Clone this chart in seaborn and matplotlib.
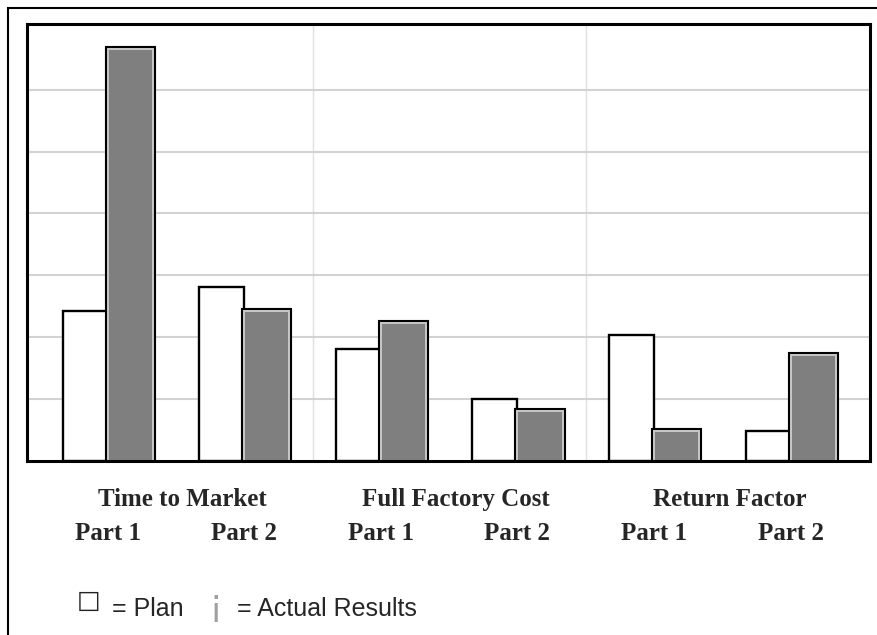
import pandas as pd
import matplotlib.pyplot as plt
import matplotlib.patheffects as pe
from matplotlib.patches import Rectangle
from matplotlib.transforms import blended_transform_factory
import seaborn as sns

# values (one grid step = 1 unit)
groups = ['Time to Market', 'Full Factory Cost', 'Return Factor']
parts = ['Part 1', 'Part 2']
plan = [2.42, 2.81, 1.81, 1.00, 2.03, 0.48]
actual = [6.66, 2.42, 2.23, 0.81, 0.48, 1.71]

rows = []
i = 0
for g in groups:
    for p in parts:
        rows.append({'key': f'{g}|{p}', 'kind': 'Plan', 'value': plan[i]})
        rows.append({'key': f'{g}|{p}', 'kind': 'Actual', 'value': actual[i]})
        i += 1
df = pd.DataFrame(rows)
order = [f'{g}|{p}' for g in groups for p in parts]

sns.set_style('white')
plt.rcParams['font.family'] = ['Liberation Sans', 'DejaVu Sans']

fig = plt.figure(figsize=(8.77, 6.35), dpi=100)
ax = fig.add_axes([27 / 877, 1 - 461 / 635, (870 - 27) / 877, (461 - 24) / 635])

sns.barplot(data=df, x='key', y='value', hue='kind', order=order,
            hue_order=['Plan', 'Actual'],
            palette={'Plan': 'white', 'Actual': '#7f7f7f'},
            edgecolor='black', linewidth=1.7, width=0.66,
            legend=False, ax=ax, zorder=3)

# grey bars: black outline with a light inner rim
for bar in ax.containers[1]:
    bar.set_edgecolor('#c9c9c9')
    bar.set_linewidth(1.4)
    bar.set_path_effects([pe.Stroke(linewidth=4.4, foreground='black'), pe.Normal()])

ax.set_ylim(0, 7.06)
ax.set_xlim(-0.59, 5.58)
ax.set_yticks(range(1, 7))
ax.set_yticklabels([])
ax.yaxis.grid(True, color='#d2d2d2', linewidth=1.5, zorder=0)
ax.set_xticks([1.5, 3.5], minor=True)
ax.xaxis.grid(True, which='minor', color='#e0e0e0', linewidth=1.0, zorder=0)
ax.xaxis.grid(False, which='major')
ax.set_axisbelow(True)
ax.tick_params(axis='both', which='both', length=0)
ax.set_xlabel('')
ax.set_ylabel('')

ax.set_xticks(range(len(order)))
ax.set_xticklabels([p for g in groups for p in parts],
                   family=['Liberation Serif', 'DejaVu Serif'],
                   fontweight='bold', fontsize=18)
ax.tick_params(axis='x', pad=44)

for s in ax.spines.values():
    s.set_visible(True)
    s.set_color('black')
    s.set_linewidth(2.2)
ax.spines['bottom'].set_zorder(4)

trans = blended_transform_factory(ax.transData, ax.transAxes)
for k, g in enumerate(groups):
    ax.text(2 * k + 0.55, -0.087, g, transform=trans, ha='center', va='center',
            family=['Liberation Serif', 'DejaVu Serif'], fontweight='bold',
            fontsize=18)

# outer frame
fig.patches.append(Rectangle((8 / 877, -0.2), 1.2, 1.2 - 8 / 635,
                             transform=fig.transFigure, fill=False,
                             edgecolor='black', linewidth=1.5, clip_on=False))

ly = 1 - 609 / 635
fig.text(77 / 877, 1 - 601 / 635, '\u25a1', ha='left', va='center', fontsize=18,
         color='#222222', family=['DejaVu Sans'], fontweight='bold')
fig.text(112 / 877, ly, '= Plan', ha='left', va='center', fontsize=18)
fig.text(210 / 877, 1 - 606 / 635, '\u00a1', ha='left', va='center', fontsize=27,
         color='#a0a0a0')
fig.text(237 / 877, ly, '= Actual Results', ha='left', va='center', fontsize=18)

fig.savefig('out.png', dpi=100)
